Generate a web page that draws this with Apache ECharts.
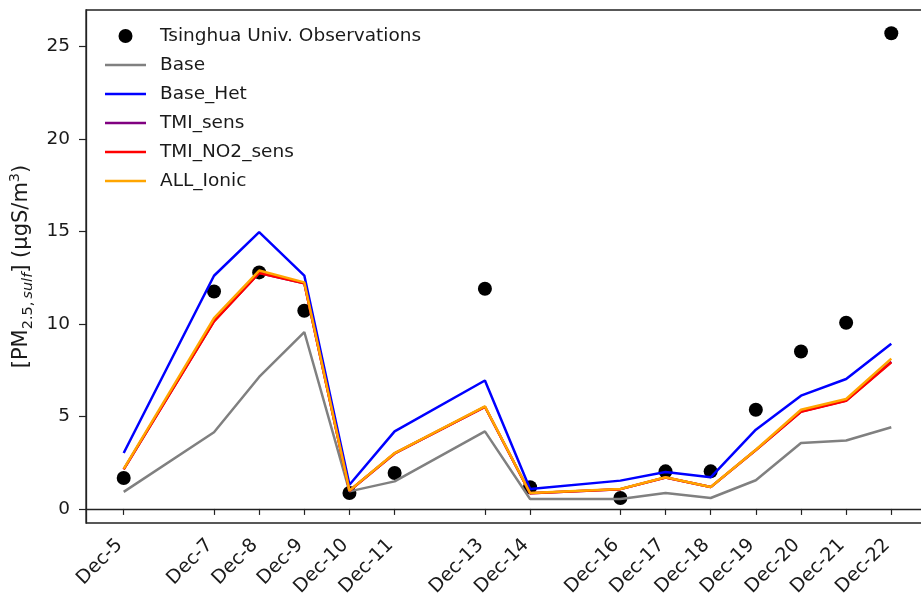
<!DOCTYPE html>
<html>
<head>
<meta charset="utf-8">
<script src="https://cdn.jsdelivr.net/npm/echarts@6/dist/echarts.min.js"></script>
<style>html,body{margin:0;padding:0;background:#fff}#c{width:921px;height:597px}</style>
</head>
<body>
<div id="c"></div>
<script>
// Day of December for each sample
const days = [5, 7, 8, 9, 10, 11, 13, 14, 16, 17, 18, 19, 20, 21, 22];
const dayLabels = ['Dec-5','Dec-7','Dec-8','Dec-9','Dec-10','Dec-11','Dec-13','Dec-14','Dec-16','Dec-17','Dec-18','Dec-19','Dec-20','Dec-21','Dec-22'];
const yTicks = [0, 5, 10, 15, 20, 25];

const observations = [1.67, 11.75, 12.78, 10.71, 0.86, 1.94, 11.9, 1.17, 0.59, 2.03, 2.03, 5.36, 8.51, 10.06, 25.7];
const base       = [0.92, 4.14, 7.13, 9.56, 0.95, 1.49, 4.19, 0.54, 0.54, 0.86, 0.59, 1.55, 3.56, 3.70, 4.41];
const baseHet    = [3.02, 12.6, 14.96, 12.61, 1.31, 4.19, 6.94, 1.08, 1.53, 2.0, 1.71, 4.28, 6.12, 7.02, 8.93];
const tmiSens    = [2.14, 10.15, 12.75, 12.2, 0.98, 3.0, 5.52, 0.85, 1.07, 1.7, 1.18, 3.18, 5.26, 5.86, 7.95];
const tmiNo2Sens = [2.14, 10.13, 12.75, 12.2, 0.98, 3.0, 5.52, 0.85, 1.07, 1.7, 1.18, 3.18, 5.25, 5.85, 7.92];
const allIonic   = [2.16, 10.31, 12.88, 12.24, 0.99, 3.02, 5.54, 0.86, 1.08, 1.71, 1.19, 3.2, 5.36, 5.94, 8.12];

const pair = arr => days.map((d, i) => [d, arr[i]]);
const labelOf = {}; days.forEach((d, i) => labelOf[d] = dayLabels[i]);

const FONT = 'DejaVu Sans';
const TXT = '#1a1a1a';
const chart = echarts.init(document.getElementById('c'));

// legend line icon: thin bar inside a 41x14 box
const LINE_ICON = 'path://M0,0 M0,5.8 L41,5.8 L41,8.2 L0,8.2 Z M41,14';

function lineSeries(name, arr, color, z) {
  return { name, type: 'line', data: pair(arr), symbol: 'none', z,
    lineStyle: { color, width: 2.5 }, itemStyle: { color }, animation: false };
}

chart.setOption({
  animation: false,
  grid: { left: 86, top: 10, bottom: 74, right: -8, outerBoundsMode: 'none', containLabel: false,
    show: true, borderColor: '#222', borderWidth: 1.3 },
  legend: {
    orient: 'vertical', left: 100, top: 21, itemWidth: 41, itemHeight: 14, itemGap: 9,
    textStyle: { fontFamily: FONT, fontSize: 18.5, lineHeight: 20, color: TXT, padding: [0, 0, 0, 9] },
    data: [
      { name: 'Tsinghua Univ. Observations', icon: 'circle' },
      { name: 'Base', icon: LINE_ICON },
      { name: 'Base_Het', icon: LINE_ICON },
      { name: 'TMI_sens', icon: LINE_ICON },
      { name: 'TMI_NO2_sens', icon: LINE_ICON },
      { name: 'ALL_Ionic', icon: LINE_ICON }
    ]
  },
  xAxis: {
    type: 'value', min: 4.165, max: 22.835,
    axisLine: { show: true, lineStyle: { color: '#222', width: 1.3 } },
    axisTick: { show: true, length: 6, customValues: days, lineStyle: { color: '#222', width: 1.2 } },
    axisLabel: { customValues: days, rotate: 45, margin: 15, padding: [0, 6, 0, 0], fontFamily: FONT, fontSize: 19, color: TXT,
      formatter: v => labelOf[v] || '' },
    splitLine: { show: false }
  },
  yAxis: {
    type: 'value', min: -0.76, max: 26.96,
    name: '[PM{sub|2.5,}{subi|sulf}] (μgS/m{sup|3})',
    nameLocation: 'middle', nameRotate: 90, nameGap: 49,
    nameTextStyle: { fontFamily: FONT, fontSize: 21, color: TXT,
      rich: {
        sub: { fontFamily: FONT, fontSize: 14.5, color: TXT, verticalAlign: 'bottom', lineHeight: 28, padding: [10, 0, 0, 0] },
        subi: { fontFamily: FONT, fontSize: 14.5, fontStyle: 'italic', color: TXT, verticalAlign: 'bottom', lineHeight: 28, padding: [10, 0, 0, 3] },
        sup: { fontFamily: FONT, fontSize: 14.5, color: TXT, verticalAlign: 'top', padding: [0, 0, 10, 0] }
      } },
    axisLine: { show: true, lineStyle: { color: '#222', width: 1.3 } },
    axisTick: { show: true, length: 7, customValues: yTicks, lineStyle: { color: '#222', width: 1.2 } },
    axisLabel: { customValues: yTicks, margin: 16, fontFamily: FONT, fontSize: 18.5, color: TXT },
    splitLine: { show: false }
  },
  series: [
    { name: 'Tsinghua Univ. Observations', type: 'scatter', data: pair(observations), symbol: 'circle',
      symbolSize: 14, itemStyle: { color: '#000', opacity: 1 }, z: 1 },
    lineSeries('Base', base, '#808080', 2),
    lineSeries('Base_Het', baseHet, '#0000ff', 3),
    lineSeries('TMI_sens', tmiSens, '#800080', 4),
    lineSeries('TMI_NO2_sens', tmiNo2Sens, '#ff0000', 5),
    lineSeries('ALL_Ionic', allIonic, '#ffa500', 6)
  ]
});
</script>
</body>
</html>
